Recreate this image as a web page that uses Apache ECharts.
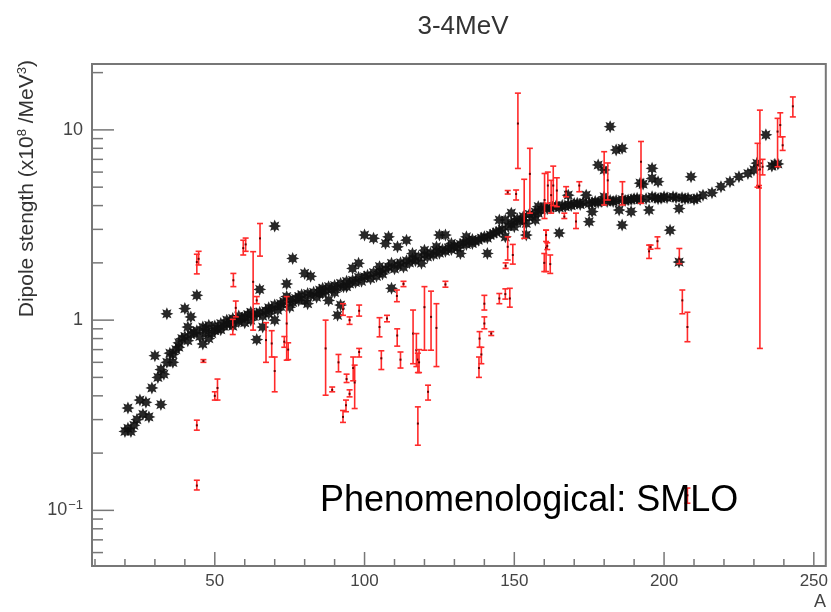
<!DOCTYPE html>
<html>
<head>
<meta charset="utf-8">
<title>3-4MeV</title>
<script src="https://cdn.jsdelivr.net/npm/echarts@6/dist/echarts.min.js"></script>
<style>
html, body { margin: 0; padding: 0; background: #fff; }
#chart { width: 831px; height: 612px; filter: blur(0.4px); }
</style>
</head>
<body>
<div id="chart"></div>
<script>
// axis range
var X_MIN = 9, X_MAX = 254;
var Y_MIN = 0.051, Y_MAX = 22.2;

// SMLO model points [A, strength]
var stars = [
  [20,0.26],[21,0.27],[22,0.26],[23,0.28],[24,0.30],[21,0.345],[25,0.38],[26,0.32],[27,0.37],[28,0.31],
  [29,0.44],[30,0.65],[31,0.5],[32,0.36],[32,0.55],[33,0.52],[34,1.08],[34,0.6],[35,0.67],[36,0.6],
  [36,0.66],[37,0.7],[38,0.72],[38,0.76],[39,0.8],[40,1.15],[40,0.82],[41,0.92],[41,0.78],[42,1.04],
  [42,0.84],[43,0.86],[44,1.35],[44,0.88],[45,0.82],[46,0.92],[46,0.75],[47,0.86],[47,0.9],[48,0.8],
  [48,0.94],[49,0.85],[50,0.88],[50,0.93],[51,0.9],[52,0.89],[52,0.96],[53,0.93],[54,1.0],[54,0.95],
  [55,0.97],[56,0.93],[56,1.02],[57,1.0],[58,0.98],[58,1.05],[59,1.02],[60,1.04],[60,0.97],[61,1.07],
  [62,1.0],[62,1.1],[63,1.05],[64,0.79],[64,1.08],[65,1.45],[65,1.1],[66,0.92],[66,1.05],[67,1.12],
  [68,1.08],[68,1.16],[69,1.14],[70,3.12],[70,1.2],[70,1.0],[71,1.13],[72,1.22],[72,1.18],[73,1.25],
  [74,1.55],[74,1.33],[75,1.17],[75,1.28],[76,2.11],[76,1.24],[77,1.3],[78,1.33],[78,1.27],[79,1.36],
  [80,1.27],[80,1.76],[81,1.22],[81,1.38],[82,1.7],[82,1.35],[83,1.4],[84,1.32],[85,1.38],[85,1.44],
  [86,1.39],[86,1.47],[87,1.42],[88,1.27],[88,1.5],[89,1.45],[90,1.52],[90,1.4],[91,1.06],[91,1.48],
  [92,1.2],[92,1.56],[93,1.5],[94,1.5],[94,1.6],[95,1.55],[96,1.87],[96,1.62],[97,1.58],[98,1.99],
  [98,1.68],[99,1.6],[100,2.8],[100,1.69],[101,1.72],[102,1.65],[103,2.69],[103,1.78],[104,1.7],[105,1.91],
  [105,1.8],[106,1.75],[107,2.53],[107,1.85],[108,2.74],[108,1.9],[109,1.47],[109,1.99],[110,1.86],[111,2.43],
  [111,1.95],[112,2.0],[113,1.9],[114,2.63],[114,2.05],[115,2.0],[116,2.24],[116,2.1],[117,2.05],[118,2.15],
  [119,1.99],[120,2.33],[120,2.2],[121,2.15],[122,2.25],[123,2.2],[124,2.43],[124,2.3],[125,2.8],[125,2.25],
  [126,2.35],[127,2.8],[127,2.3],[128,2.4],[129,2.53],[129,2.35],[130,2.45],[131,2.4],[132,2.24],[132,2.5],
  [133,2.55],[134,2.74],[134,2.5],[135,2.6],[136,2.53],[136,2.65],[137,2.6],[138,2.63],[139,2.7],[140,2.74],
  [141,2.24],[141,2.7],[142,2.8],[143,2.85],[144,2.9],[145,3.36],[145,2.95],[146,3.0],[147,2.74],[147,3.36],
  [148,3.1],[149,3.65],[149,3.2],[150,3.1],[150,3.3],[151,3.4],[152,3.3],[153,3.36],[153,3.5],[154,2.8],
  [154,3.22],[155,3.6],[156,3.5],[157,3.36],[157,3.7],[158,3.95],[158,3.65],[159,3.8],[160,3.95],[161,3.85],
  [162,3.9],[163,3.95],[164,4.0],[165,2.87],[165,3.9],[166,4.0],[167,3.95],[168,4.54],[168,4.05],[169,4.0],
  [170,4.1],[171,4.11],[172,4.05],[173,4.15],[174,4.54],[175,3.29],[175,4.1],[176,3.72],[176,4.15],[177,4.2],
  [178,6.54],[178,4.15],[179,4.2],[180,6.16],[180,4.45],[181,4.2],[182,10.4],[182,4.25],[183,4.2],[184,7.85],
  [184,4.25],[185,3.79],[186,8.0],[186,3.16],[186,4.3],[187,4.25],[188,4.28],[189,3.72],[189,4.3],[190,4.35],
  [191,4.37],[192,5.25],[192,4.3],[193,5.19],[194,4.35],[195,3.79],[196,5.56],[196,6.28],[196,4.45],[197,4.4],
  [198,5.34],[198,4.35],[199,4.37],[200,4.45],[201,4.4],[202,2.97],[203,4.45],[204,4.4],[205,3.86],[205,2.02],
  [206,4.4],[207,4.35],[208,4.37],[209,5.67],[210,4.31],[211,4.37],[213,4.54],[216,4.67],[219,5.03],[222,5.34],
  [225,5.67],[228,5.9],[230,6.16],[231,6.68],[234,9.42],[236,6.45],[237,6.6],[238,6.62]
];

// measured points [A, value, low, high]
var errBars = [
  [44,2.02,1.75,2.22],[44.6,2.1,1.95,2.3],[44,0.28,0.264,0.298],[44,0.135,0.128,0.144],
  [46.2,0.61,0.6,0.62],[50.9,0.44,0.38,0.49],[50,0.40,0.38,0.42],[56.2,1.62,1.5,1.76],
  [57,1.16,1.04,1.26],[56,0.92,0.84,1.01],[59.5,2.39,2.2,2.63],[60.3,2.5,2.3,2.7],
  [62.8,1.59,0.886,2.29],[65.1,2.69,2.17,3.22],[64,1.27,1.22,1.33],[67.1,0.785,0.6,0.97],
  [69,0.754,0.64,0.88],[70,0.54,0.42,0.64],[74,0.96,0.616,1.33],[73.2,0.77,0.72,0.82],
  [74.5,0.70,0.62,0.76],[87,0.71,0.403,1.0],[89.2,0.43,0.42,0.445],[91.3,0.6,0.535,0.66],
  [92.8,1.14,1.06,1.22],[95,1.0,0.95,1.04],[98.2,1.12,1.05,1.2],[98.2,0.68,0.64,0.71],
  [96.2,0.56,0.48,0.64],[94,0.49,0.47,0.52],[96.7,0.47,0.343,0.58],[95,0.41,0.395,0.43],
  [93.8,0.357,0.33,0.38],[92.8,0.31,0.29,0.335],[105,0.92,0.817,1.03],[107.5,1.02,0.98,1.06],
  [105.6,0.63,0.55,0.69],[110.9,0.83,0.73,0.9],[112,0.62,0.56,0.68],[110.8,1.34,1.25,1.44],
  [113,1.55,1.5,1.6],[116.2,0.85,0.59,1.13],[117.3,0.695,0.57,0.85],[117.8,0.62,0.53,0.67],
  [118.2,0.6,0.53,0.7],[120,1.17,0.695,1.5],[122.2,1.04,0.695,1.42],[124,0.91,0.57,1.22],
  [121.2,0.42,0.38,0.455],[117.8,0.286,0.22,0.35],[127,1.54,1.49,1.6],[140,1.22,1.13,1.35],
  [140,0.96,0.9,1.04],[138.4,0.8,0.72,0.87],[139,0.66,0.59,0.72],[138.2,0.56,0.5,0.64],
  [142.3,0.85,0.83,0.87],[145,1.3,1.22,1.38],[147,1.37,1.29,1.46],[148.5,1.3,1.17,1.47],
  [149.5,2.2,1.97,2.5],[160.6,2.4,1.8,2.97],[151.2,10.8,6.27,15.6],[155.2,5.87,3.65,8.0],
  [153.3,3.22,2.69,5.5],[150.6,4.6,4.28,4.83],[147.8,4.7,4.6,4.8],[147.8,2.43,2.07,2.74],
  [147.1,1.93,1.87,2.0],[160.1,4.28,3.42,5.9],[161.2,5.1,4.11,6.0],[162.3,4.54,3.65,5.43],
  [163,5.1,4.0,6.45],[164.2,4.8,3.95,5.6],[160.6,2.8,2.59,2.97],[161,2.45,2.35,2.55],
  [160,2.0,1.8,2.24],[162,1.97,1.76,2.2],[167.3,4.75,4.45,5.03],[166.7,3.5,3.42,3.65],
  [170.6,3.3,3.03,3.65],[171.7,5.1,4.73,5.34],[180,6.16,4.03,7.68],[181.2,5.43,4.28,6.7],
  [186.1,4.6,4.03,5.34],[192.3,6.8,4.11,8.69],[195,2.3,2.11,2.48],[195.5,2.42,2.36,2.48],
  [197.8,2.6,2.38,2.74],[205.1,2.1,1.98,2.38],[206.1,1.27,1.08,1.44],[207.8,0.92,0.77,1.1],
  [207.8,0.12,0.109,0.131],[232,6.2,0.71,12.7],[231.2,6.54,5.0,8.5],[232.9,6.4,5.8,7.0],
  [231.7,5.03,4.95,5.1],[237.9,9.8,6.4,11.5],[238.8,10.6,9.2,12.3],[239.6,8.3,7.8,9.2],
  [243,13.3,11.7,14.9]
];

var xMajorTicks = [50, 100, 150, 200, 250];
var xMinorTicks = [10, 20, 30, 40, 60, 70, 80, 90, 110, 120, 130, 140, 160, 170, 180, 190, 210, 220, 230, 240];
var yMajorTicks = [0.1, 1, 10];
var yMinorTicks = [0.06, 0.07, 0.08, 0.09, 0.2, 0.3, 0.4, 0.5, 0.6, 0.7, 0.8, 0.9, 2, 3, 4, 5, 6, 7, 8, 9, 20];
var yTickLabels = { '-1': '{b|10}{e|\u22121}', '0': '1', '1': '10' };

var AXIS_COLOR = '#777';
var LABEL_COLOR = '#444';
var FONT = 'Liberation Sans, Arial, sans-serif';

// ROOT-like asterisk marker
function starSymbol() {
  var pts = [];
  for (var k = 0; k < 16; k++) {
    var r = k % 2 ? 5.5 : 10, a = k * Math.PI / 8 - Math.PI / 2;
    pts.push((10 + r * Math.cos(a)).toFixed(2) + ' ' + (10 + r * Math.sin(a)).toFixed(2));
  }
  return 'path://M' + pts.join(' L') + ' Z';
}

function tickSeries(values, onX, len) {
  return {
    type: 'custom',
    silent: true,
    z: 6,
    encode: { x: 0, y: 1 },
    data: values.map(function (v) { return onX ? [v, Y_MIN] : [X_MIN, v]; }),
    renderItem: function (params, api) {
      var p = api.coord([api.value(0), api.value(1)]);
      var shape = onX
        ? { x1: p[0], y1: p[1], x2: p[0], y2: p[1] - len }
        : { x1: p[0], y1: p[1], x2: p[0] + len, y2: p[1] };
      return { type: 'line', shape: shape, style: { stroke: AXIS_COLOR, lineWidth: 1.5 } };
    }
  };
}

var chart = echarts.init(document.getElementById('chart'));

var option = {
  animation: false,
  backgroundColor: '#fff',
  grid: {
    left: 92, right: 4, top: 64, bottom: 46,
    show: true, borderColor: AXIS_COLOR, borderWidth: 2, backgroundColor: '#fff'
  },
  xAxis: {
    type: 'value',
    min: X_MIN, max: X_MAX,
    splitNumber: 5,
    axisLine: { show: false },
    axisTick: { show: false },
    splitLine: { show: false },
    axisLabel: {
      margin: 7,
      color: LABEL_COLOR, fontSize: 17, fontFamily: FONT,
      formatter: function (v) { return v % 50 === 0 ? String(v) : ''; }
    }
  },
  yAxis: {
    type: 'log',
    logBase: 10,
    min: Y_MIN, max: Y_MAX,
    axisLine: { show: false },
    axisTick: { show: false },
    splitLine: { show: false },
    axisLabel: {
      margin: 9,
      color: LABEL_COLOR, fontSize: 18, fontFamily: FONT,
      formatter: function (v) {
        var e = Math.log10(v), r = Math.round(e);
        if (Math.abs(e - r) > 1e-6) return '';
        return yTickLabels[r] || '';
      },
      rich: {
        b: { fontSize: 18, color: LABEL_COLOR, fontFamily: FONT, lineHeight: 22 },
        e: { fontSize: 13, color: LABEL_COLOR, fontFamily: FONT, lineHeight: 22, verticalAlign: 'top', padding: [0, 0, 0, 1] }
      }
    }
  },
  graphic: [
    {
      type: 'text', x: 463, y: 27, z: 10,
      style: { text: '3-4MeV', fill: '#333', font: '26px ' + FONT, align: 'center', verticalAlign: 'middle' }
    },
    {
      type: 'text', x: 27, y: 60, rotation: Math.PI / 2, z: 10,
      style: {
        text: 'Dipole stength (x10{s|8} /MeV{s|3})',
        fill: '#333', font: '21px ' + FONT, align: 'right', verticalAlign: 'middle',
        rich: { s: { fontSize: 13, fill: '#333', fontFamily: FONT, verticalAlign: 'top', lineHeight: 22 } }
      }
    },
    {
      type: 'text', x: 820, y: 602, z: 10,
      style: { text: 'A', fill: LABEL_COLOR, font: '18px ' + FONT, align: 'center', verticalAlign: 'middle' }
    },
    {
      type: 'text', x: 320, y: 501, z: 100,
      style: { text: 'Phenomenological: SMLO', fill: '#000', font: '36px ' + FONT, align: 'left', verticalAlign: 'middle' }
    }
  ],
  series: [
    {
      name: 'SMLO',
      type: 'scatter',
      data: stars,
      symbol: starSymbol(),
      symbolSize: 13,
      itemStyle: { color: '#111', opacity: 0.9 },
      z: 2
    },
    {
      name: 'data',
      type: 'custom',
      z: 3,
      encode: { x: 0, y: [1, 2, 3] },
      data: errBars,
      renderItem: function (params, api) {
        var a = api.value(0);
        var c = api.coord([a, api.value(1)]);
        var lo = api.coord([a, api.value(2)]);
        var hi = api.coord([a, api.value(3)]);
        var st = { stroke: '#ff2a2a', lineWidth: 1.6 };
        return {
          type: 'group',
          children: [
            { type: 'line', shape: { x1: lo[0], y1: lo[1], x2: hi[0], y2: hi[1] }, style: st },
            { type: 'line', shape: { x1: lo[0] - 3, y1: lo[1], x2: lo[0] + 3, y2: lo[1] }, style: st },
            { type: 'line', shape: { x1: hi[0] - 3, y1: hi[1], x2: hi[0] + 3, y2: hi[1] }, style: st },
            { type: 'rect', shape: { x: c[0] - 1, y: c[1] - 1, width: 2, height: 2 }, style: { fill: '#600' } }
          ]
        };
      }
    },
    tickSeries(xMajorTicks, true, 14),
    tickSeries(xMinorTicks, true, 7),
    tickSeries(yMajorTicks, false, 22),
    tickSeries(yMinorTicks, false, 11)
  ]
};

chart.setOption(option);
</script>
</body>
</html>
